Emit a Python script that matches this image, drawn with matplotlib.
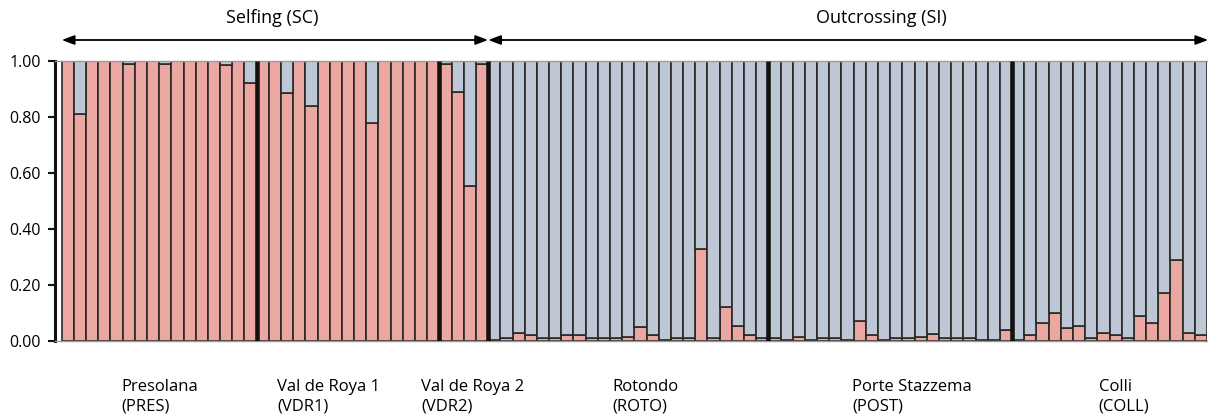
import numpy as np
import matplotlib
matplotlib.use("Agg")
import matplotlib.pyplot as plt

plt.rcParams['font.family'] = ['Open Sans', 'DejaVu Sans']

# proportion of the "selfing" cluster (pink) for each individual, per population
pres = [1.00, 0.81, 1.00, 1.00, 1.00, 0.99, 1.00, 1.00, 0.99, 1.00, 1.00, 1.00, 1.00, 0.985, 1.00, 0.92]
vdr1 = [1.00, 1.00, 0.885, 1.00, 0.84, 1.00, 1.00, 1.00, 1.00, 0.78, 1.00, 1.00, 1.00, 1.00, 1.00]
vdr2 = [0.99, 0.89, 0.555, 0.99]
roto = [0.005, 0.01, 0.03, 0.02, 0.01, 0.01, 0.02, 0.02, 0.01, 0.01, 0.01, 0.015,
        0.05, 0.02, 0.005, 0.01, 0.01, 0.33, 0.01, 0.12, 0.055, 0.02, 0.01]
post = [0.01, 0.005, 0.015, 0.005, 0.01, 0.01, 0.005, 0.07, 0.02, 0.005, 0.01, 0.01,
        0.015, 0.025, 0.01, 0.01, 0.01, 0.005, 0.005, 0.04]
coll = [0.005, 0.02, 0.065, 0.10, 0.045, 0.055, 0.01, 0.03, 0.02, 0.01, 0.09, 0.065,
        0.17, 0.29, 0.03, 0.02]

populations = [pres, vdr1, vdr2, roto, post, coll]
pop_names = ["Presolana\n(PRES)", "Val de Roya 1\n(VDR1)", "Val de Roya 2\n(VDR2)",
             "Rotondo\n(ROTO)", "Porte Stazzema\n(POST)", "Colli\n(COLL)"]
# where each population label starts (bar index units)
label_x = [4.4, 17.2, 29.0, 44.7, 64.4, 84.6]
yticks = [0.0, 0.2, 0.4, 0.6, 0.8, 1.0]

pink = "#EBA8A3"
blue = "#BEC7D5"
edge = "#2a2826"

q = np.concatenate([np.array(p, dtype=float) for p in populations])
x = np.arange(len(q))
sizes = [len(p) for p in populations]
bounds = np.cumsum(sizes)[:-1] - 0.5
n_self = sizes[0] + sizes[1] + sizes[2]

fig = plt.figure(figsize=(12.09, 4.19), dpi=100)
ax = fig.add_axes([55 / 1209, 78 / 419, 1152 / 1209, 280 / 419])

ax.bar(x, q, width=1.0, color=pink, edgecolor=edge, linewidth=1.2)
ax.bar(x, 1 - q, bottom=q, width=1.0, color=blue, edgecolor=edge, linewidth=1.2)

# thick black separators between populations
ax.vlines(bounds, 0, 1, color="#141210", linewidth=3.3, zorder=5)

ax.set_xlim(-1.05, len(q) - 0.5)
ax.set_ylim(0, 1.0)
ax.set_xticks([])
ax.set_yticks(yticks)
ax.set_yticklabels(["%.2f" % v for v in yticks], fontsize=11.5)
ax.tick_params(axis='y', direction='out', length=5, width=1.5, color='#111111', pad=5)

ax.spines['left'].set_linewidth(2.2)
ax.spines['left'].set_color('#111111')
ax.spines['right'].set_visible(False)
ax.spines['top'].set_color('#9a9a9a')
ax.spines['top'].set_linewidth(1.0)
ax.spines['bottom'].set_color('#9a9a9a')
ax.spines['bottom'].set_linewidth(1.0)

# mating system arrows above the plot
arrow_y = 1.075
arrow_kw = dict(arrowstyle='<|-|>,head_length=0.75,head_width=0.28', color='black',
                lw=1.3, shrinkA=0, shrinkB=0)
ax.annotate("", xy=(-0.5, arrow_y), xytext=(n_self - 0.5, arrow_y),
            xycoords=('data', 'axes fraction'), textcoords=('data', 'axes fraction'),
            arrowprops=arrow_kw, annotation_clip=False)
ax.annotate("", xy=(n_self - 0.5, arrow_y), xytext=(len(q) - 0.4, arrow_y),
            xycoords=('data', 'axes fraction'), textcoords=('data', 'axes fraction'),
            arrowprops=arrow_kw, annotation_clip=False)

ax.text((n_self - 1) / 2 - 0.2, 1.152, "Selfing (SC)", transform=ax.get_xaxis_transform(),
        ha='center', va='center', fontsize=13)
ax.text(66.8, 1.152, "Outcrossing (SI)", transform=ax.get_xaxis_transform(),
        ha='center', va='center', fontsize=13)

for lx, name in zip(label_x, pop_names):
    ax.text(lx, -0.135, name, transform=ax.get_xaxis_transform(), ha='left', va='top',
            fontsize=12, linespacing=1.3)

fig.savefig("out.png", dpi=100, facecolor='white')
